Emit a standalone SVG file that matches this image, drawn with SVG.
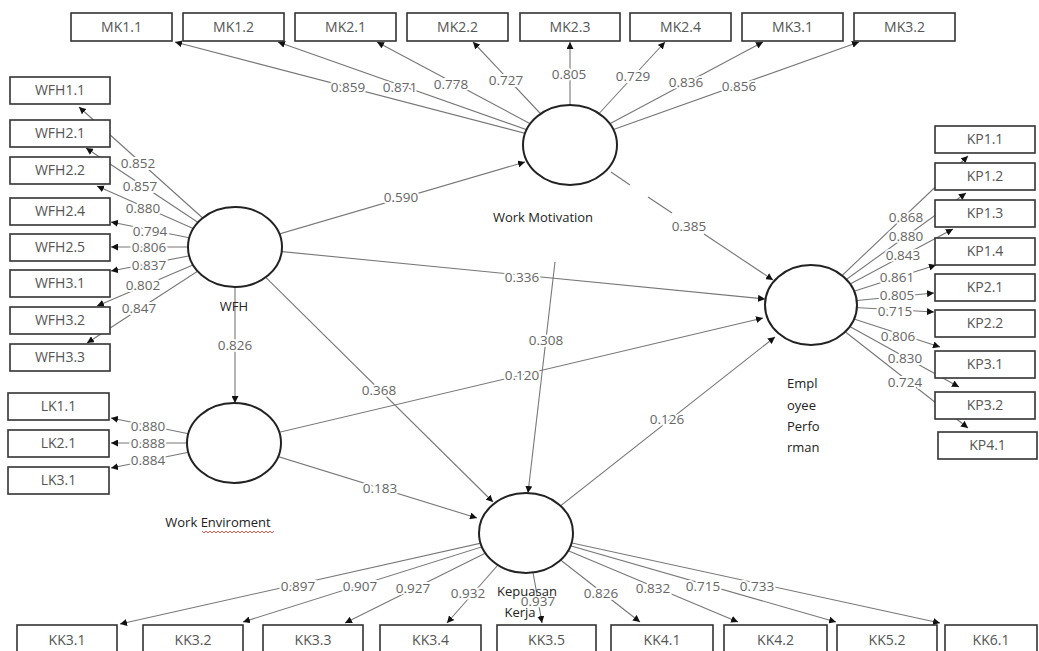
<svg xmlns="http://www.w3.org/2000/svg" width="1039" height="651" viewBox="0 0 1039 651">
<defs>
<marker id="ah" viewBox="0 0 8 8" refX="8" refY="4" markerWidth="7" markerHeight="7" orient="auto" markerUnits="userSpaceOnUse"><path d="M0,0 L8,4 L0,8 z" fill="#111"/></marker>
<style>
.ln{stroke:#777;stroke-width:1.1;fill:none;marker-end:url(#ah)}
.ls{stroke:#777;stroke-width:1.1;fill:none}
.lv{font-family:"Open Sans","Liberation Sans",sans-serif;font-size:13.5px;fill:#666;text-anchor:middle;stroke:#fff;stroke-width:4;paint-order:stroke}
.bx rect{fill:#fff;stroke:#333;stroke-width:1.6}
.bx text{font-family:"Open Sans","Liberation Sans",sans-serif;font-size:14px;fill:#555;text-anchor:middle}
.lat ellipse{fill:#fff;stroke:#222;stroke-width:2}
.nm{font-family:"Open Sans","Liberation Sans",sans-serif;font-size:13px;fill:#222}
</style>
</defs>
<rect width="1039" height="651" fill="#fff"/>
<g id="connectors">
<line class="ln" x1="570" y1="145" x2="175" y2="42"/>
<line class="ln" x1="570" y1="145" x2="278" y2="42"/>
<line class="ln" x1="570" y1="145" x2="377" y2="42"/>
<line class="ln" x1="570" y1="145" x2="473" y2="42"/>
<line class="ln" x1="570" y1="145" x2="570" y2="42"/>
<line class="ln" x1="570" y1="145" x2="665" y2="42"/>
<line class="ln" x1="570" y1="145" x2="763" y2="42"/>
<line class="ln" x1="570" y1="145" x2="859" y2="42"/>
<line class="ln" x1="235" y1="247" x2="79" y2="107"/>
<line class="ln" x1="235" y1="247" x2="86" y2="148"/>
<line class="ln" x1="235" y1="247" x2="97" y2="186"/>
<line class="ln" x1="235" y1="247" x2="111" y2="222"/>
<line class="ln" x1="235" y1="247" x2="111" y2="247"/>
<line class="ln" x1="235" y1="247" x2="111" y2="271"/>
<line class="ln" x1="235" y1="247" x2="97" y2="306"/>
<line class="ln" x1="235" y1="247" x2="87" y2="343"/>
<line class="ln" x1="234" y1="443" x2="111" y2="418"/>
<line class="ln" x1="234" y1="443" x2="111" y2="443"/>
<line class="ln" x1="234" y1="443" x2="111" y2="468"/>
<line class="ln" x1="526" y1="533" x2="120" y2="624"/>
<line class="ln" x1="526" y1="533" x2="243" y2="622"/>
<line class="ln" x1="526" y1="533" x2="345" y2="623"/>
<line class="ln" x1="526" y1="533" x2="447" y2="623"/>
<line class="ln" x1="526" y1="533" x2="542" y2="623"/>
<line class="ln" x1="526" y1="533" x2="640" y2="622"/>
<line class="ln" x1="526" y1="533" x2="738" y2="622"/>
<line class="ln" x1="526" y1="533" x2="836" y2="622"/>
<line class="ln" x1="526" y1="533" x2="940" y2="623"/>
<line class="ln" x1="811" y1="305" x2="968" y2="156"/>
<line class="ln" x1="811" y1="305" x2="966" y2="193"/>
<line class="ln" x1="811" y1="305" x2="953" y2="229"/>
<line class="ln" x1="811" y1="305" x2="936" y2="265"/>
<line class="ln" x1="811" y1="305" x2="934" y2="293"/>
<line class="ln" x1="811" y1="305" x2="934" y2="312"/>
<line class="ln" x1="811" y1="305" x2="940" y2="347"/>
<line class="ln" x1="811" y1="305" x2="959" y2="387"/>
<line class="ln" x1="811" y1="305" x2="968" y2="428"/>
<line class="ln" x1="235" y1="247" x2="525" y2="162"/>
<line class="ln" x1="235" y1="247" x2="765" y2="299"/>
<line class="ls" x1="611" y1="172" x2="630" y2="185"/>
<line class="ls" x1="648" y1="197" x2="672" y2="213"/>
<line class="ln" x1="704" y1="234" x2="773" y2="280"/>
<line class="ln" x1="235" y1="247" x2="493" y2="502"/>
<line class="ln" x1="235" y1="247" x2="235" y2="403"/>
<line class="ln" x1="234" y1="443" x2="763" y2="318"/>
<line class="ln" x1="234" y1="443" x2="477" y2="518"/>
<line class="ln" x1="555" y1="262" x2="528" y2="493"/>
<line class="ln" x1="526" y1="533" x2="775" y2="337"/>
</g>
<g id="node-wm" class="lat"><ellipse cx="570" cy="145" rx="47" ry="40"/></g>
<g id="node-wfh" class="lat"><ellipse cx="235" cy="247" rx="47" ry="40"/></g>
<g id="node-we" class="lat"><ellipse cx="234" cy="443" rx="47" ry="40"/></g>
<g id="node-kk" class="lat"><ellipse cx="526" cy="533" rx="47" ry="40"/></g>
<g id="node-ep" class="lat"><ellipse cx="811" cy="305" rx="46" ry="40"/></g>
<g id="mk-boxes" class="bx">
<g id="mk11"><rect x="71" y="13" width="101" height="28"/><text x="121.5" y="32">MK1.1</text></g>
<g id="mk12"><rect x="183" y="13" width="101" height="28"/><text x="233.5" y="32">MK1.2</text></g>
<g id="mk21"><rect x="295" y="13" width="101" height="28"/><text x="345.5" y="32">MK2.1</text></g>
<g id="mk22"><rect x="407" y="13" width="101" height="28"/><text x="457.5" y="32">MK2.2</text></g>
<g id="mk23"><rect x="520" y="13" width="100" height="28"/><text x="570" y="32">MK2.3</text></g>
<g id="mk24"><rect x="630" y="13" width="101" height="28"/><text x="680.5" y="32">MK2.4</text></g>
<g id="mk31"><rect x="742" y="13" width="101" height="28"/><text x="792.5" y="32">MK3.1</text></g>
<g id="mk32"><rect x="854" y="13" width="101" height="28"/><text x="904.5" y="32">MK3.2</text></g>
</g>
<g id="wfh-boxes" class="bx">
<g id="wfh11"><rect x="10" y="77" width="100" height="27"/><text x="60" y="95">WFH1.1</text></g>
<g id="wfh21"><rect x="10" y="120" width="100" height="27"/><text x="60" y="138">WFH2.1</text></g>
<g id="wfh22"><rect x="10" y="157" width="100" height="27"/><text x="60" y="175">WFH2.2</text></g>
<g id="wfh24"><rect x="10" y="198" width="100" height="27"/><text x="60" y="216">WFH2.4</text></g>
<g id="wfh25"><rect x="10" y="234" width="100" height="27"/><text x="60" y="252">WFH2.5</text></g>
<g id="wfh31"><rect x="10" y="270" width="100" height="27"/><text x="60" y="288">WFH3.1</text></g>
<g id="wfh32"><rect x="10" y="307" width="100" height="27"/><text x="60" y="325">WFH3.2</text></g>
<g id="wfh33"><rect x="10" y="344" width="100" height="27"/><text x="60" y="362">WFH3.3</text></g>
</g>
<g id="lk-boxes" class="bx">
<g id="lk11"><rect x="8" y="393" width="101" height="27"/><text x="58.5" y="411">LK1.1</text></g>
<g id="lk21"><rect x="8" y="430" width="101" height="27"/><text x="58.5" y="448">LK2.1</text></g>
<g id="lk31"><rect x="8" y="467" width="101" height="27"/><text x="58.5" y="485">LK3.1</text></g>
</g>
<g id="kp-boxes" class="bx">
<g id="kp11"><rect x="935" y="126" width="100" height="27"/><text x="985" y="144">KP1.1</text></g>
<g id="kp12"><rect x="935" y="163" width="100" height="27"/><text x="985" y="181">KP1.2</text></g>
<g id="kp13"><rect x="935" y="200" width="100" height="27"/><text x="985" y="218">KP1.3</text></g>
<g id="kp14"><rect x="935" y="238" width="100" height="27"/><text x="985" y="256">KP1.4</text></g>
<g id="kp21"><rect x="935" y="274" width="100" height="27"/><text x="985" y="292">KP2.1</text></g>
<g id="kp22"><rect x="935" y="310" width="100" height="27"/><text x="985" y="328">KP2.2</text></g>
<g id="kp31"><rect x="935" y="351" width="100" height="27"/><text x="985" y="369">KP3.1</text></g>
<g id="kp32"><rect x="935" y="392" width="100" height="27"/><text x="985" y="410">KP3.2</text></g>
<g id="kp41"><rect x="938" y="432" width="99" height="27"/><text x="987.5" y="450">KP4.1</text></g>
</g>
<g id="kk-boxes" class="bx">
<g id="kk31"><rect x="17" y="625" width="100" height="30"/><text x="67" y="645">KK3.1</text></g>
<g id="kk32"><rect x="143" y="625" width="100" height="30"/><text x="193" y="645">KK3.2</text></g>
<g id="kk33"><rect x="263" y="625" width="100" height="30"/><text x="313" y="645">KK3.3</text></g>
<g id="kk34"><rect x="380" y="625" width="101" height="30"/><text x="430.5" y="645">KK3.4</text></g>
<g id="kk35"><rect x="497" y="625" width="99" height="30"/><text x="546.5" y="645">KK3.5</text></g>
<g id="kk41"><rect x="611" y="625" width="102" height="30"/><text x="662" y="645">KK4.1</text></g>
<g id="kk42"><rect x="724" y="625" width="103" height="30"/><text x="775.5" y="645">KK4.2</text></g>
<g id="kk52"><rect x="837" y="625" width="100" height="30"/><text x="887" y="645">KK5.2</text></g>
<g id="kk61"><rect x="945" y="625" width="92" height="30"/><text x="991" y="645">KK6.1</text></g>
</g>
<g id="labels">
<text class="lv" x="348" y="92">0.859</text>
<text class="lv" x="400" y="92">0.871</text>
<text class="lv" x="451" y="89">0.778</text>
<text class="lv" x="506" y="85">0.727</text>
<text class="lv" x="569" y="79">0.805</text>
<text class="lv" x="633" y="81">0.729</text>
<text class="lv" x="686" y="87">0.836</text>
<text class="lv" x="739" y="91">0.856</text>
<text class="lv" x="138" y="168">0.852</text>
<text class="lv" x="140" y="191">0.857</text>
<text class="lv" x="143" y="213">0.880</text>
<text class="lv" x="150" y="236">0.794</text>
<text class="lv" x="149" y="252">0.806</text>
<text class="lv" x="149" y="270">0.837</text>
<text class="lv" x="143" y="290">0.802</text>
<text class="lv" x="139" y="313">0.847</text>
<text class="lv" x="148" y="431">0.880</text>
<text class="lv" x="148" y="448">0.888</text>
<text class="lv" x="148" y="465">0.884</text>
<text class="lv" x="298" y="591">0.897</text>
<text class="lv" x="360" y="591">0.907</text>
<text class="lv" x="413" y="593">0.927</text>
<text class="lv" x="468" y="598">0.932</text>
<text class="lv" x="538" y="606">0.937</text>
<text class="lv" x="601" y="598">0.826</text>
<text class="lv" x="653" y="593">0.832</text>
<text class="lv" x="703" y="591">0.715</text>
<text class="lv" x="757" y="591">0.733</text>
<text class="lv" x="906" y="222">0.868</text>
<text class="lv" x="906" y="241">0.880</text>
<text class="lv" x="903" y="260">0.843</text>
<text class="lv" x="897" y="282">0.861</text>
<text class="lv" x="897" y="300">0.805</text>
<text class="lv" x="895" y="316">0.715</text>
<text class="lv" x="898" y="341">0.806</text>
<text class="lv" x="905" y="363">0.830</text>
<text class="lv" x="905" y="387">0.724</text>
<text class="lv" x="401" y="202">0.590</text>
<text class="lv" x="522" y="282">0.336</text>
<text class="lv" x="689" y="231">0.385</text>
<text class="lv" x="379" y="395">0.368</text>
<text class="lv" x="235" y="350">0.826</text>
<text class="lv" x="522" y="380">0.120</text>
<text class="lv" x="380" y="493">0.183</text>
<text class="lv" x="546" y="345">0.308</text>
<text class="lv" x="667" y="424">0.126</text>
</g>
<g id="names">
<text class="nm" x="543" y="222" text-anchor="middle">Work Motivation</text>
<text class="nm" x="234" y="311" text-anchor="middle">WFH</text>
<text class="nm" x="218" y="527" text-anchor="middle">Work Enviroment</text>
<path d="M202,531 l2,2 l2,-2 l2,2 l2,-2 l2,2 l2,-2 l2,2 l2,-2 l2,2 l2,-2 l2,2 l2,-2 l2,2 l2,-2 l2,2 l2,-2 l2,2 l2,-2 l2,2 l2,-2 l2,2 l2,-2 l2,2 l2,-2 l2,2 l2,-2 l2,2 l2,-2 l2,2 l2,-2 l2,2 l2,-2 l2,2 l2,-2 l2,2 l2,-2" fill="none" stroke="#e03030" stroke-width="0.8"/>
<text class="nm" x="527" y="596" text-anchor="middle">Kepuasan</text>
<text class="nm" x="520" y="617" text-anchor="middle">Kerja</text>
<text class="nm" x="787" y="388">Empl</text>
<text class="nm" x="787" y="410">oyee</text>
<text class="nm" x="787" y="431">Perfo</text>
<text class="nm" x="787" y="452">rman</text>
</g>
</svg>
